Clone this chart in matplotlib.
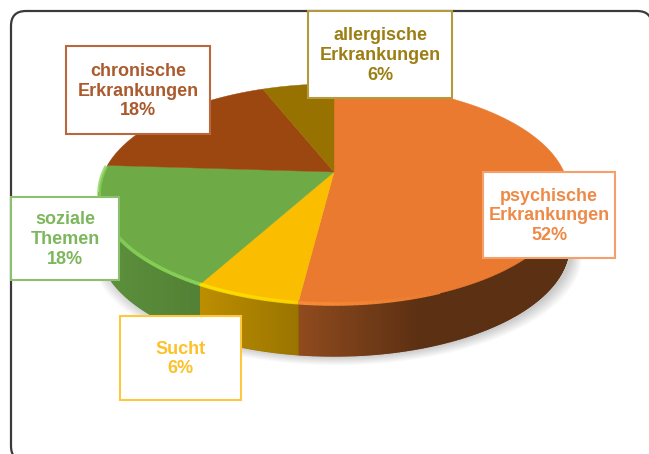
import numpy as np
import matplotlib
matplotlib.use("Agg")
import matplotlib.pyplot as plt
from matplotlib.collections import LineCollection
from matplotlib.colors import to_rgb
from matplotlib.patches import FancyBboxPatch, Rectangle

# Data, clockwise from 12 o'clock
labels = ["psychische\nErkrankungen\n52%", "Sucht\n6%", "soziale\nThemen\n18%",
          "chronische\nErkrankungen\n18%", "allergische\nErkrankungen\n6%"]
values = [52, 6, 18, 18, 6]
colors = ["#ea7a30", "#fbbd00", "#6eab47", "#9b470f", "#977200"]
text_colors = ["#ee8a48", "#fdc128", "#7db75d", "#ab5a2e", "#9c7f14"]
edge_colors = ["#f3a06c", "#fec83c", "#8cc06f", "#b9673c", "#b39a3e"]

# Label boxes in pixels: left, top, right, bottom
boxes = [(483, 172, 615, 258), (120, 316, 241, 400), (11, 197, 119, 280),
         (66, 46, 210, 134), (308, 11, 452, 98)]

# Pie placement in pixels, with a simple perspective so the near side looks bigger
cx, cy = 334, 172
sx, sy = 230, 106
k = 0.203
depth = 51


def project(theta):
    """theta is clockwise from the top, in radians"""
    x, y = np.sin(theta), np.cos(theta)
    d = 1 + k * y
    return cx + sx * x / d, cy - sy * y / d


def shade(x):
    # how dark the rim gets from left to right
    return np.interp(x, [97, 199, 295, 420, 570], [0.85, 0.75, 0.62, 0.39, 0.39])


fig = plt.figure(figsize=(6.49, 4.54), dpi=100)
ax = fig.add_axes([0, 0, 1, 1])
ax.set_xlim(0, 649)
ax.set_ylim(454, 0)
ax.axis("off")

# Frame
ax.add_patch(FancyBboxPatch((26, 26), 611, 420, boxstyle="round,pad=15,rounding_size=15",
                            fc="white", ec="#3a3a3a", lw=1.6, zorder=0))

edges = np.cumsum([0] + values) / np.sum(values) * 2 * np.pi

# Soft shadow under the rim
t = np.linspace(np.pi / 2, 3 * np.pi / 2, 181)
px, py = project(t)
for grow in np.linspace(13, 1, 9):
    ax.fill(cx + (px - cx) * (1 + grow / 300) + 3, py + depth + grow * 0.7,
            color="black", alpha=0.022, lw=0, zorder=1)

# Rim, in thin strips, only the part facing the viewer
for i in range(len(values)):
    t = np.linspace(edges[i], edges[i + 1], int(values[i] * 12) + 2)
    x, y = project(t)
    base = np.array(to_rgb(colors[i]))
    for j in range(len(t) - 1):
        if np.cos(t[j]) > -k + 0.02:
            continue
        c = base * shade((x[j] + x[j + 1]) / 2)
        ax.fill([x[j], x[j + 1], x[j + 1], x[j]],
                [y[j], y[j + 1], y[j + 1] + depth, y[j] + depth],
                color=c, lw=1, zorder=2)

# Top face
for i in range(len(values)):
    t = np.linspace(edges[i], edges[i + 1], 200)
    x, y = project(t)
    ax.fill(np.r_[cx, x], np.r_[cy, y], color=colors[i], lw=0.3, zorder=3)

# Bevel highlight on the front edge, fading out to the right
for i in range(len(values)):
    t = np.linspace(edges[i], edges[i + 1], 200)
    x, y = project(t)
    keep = (np.cos(t) < 0.05) & (x < 440)
    x, y = x[keep], y[keep]
    if len(x) < 2:
        continue
    base = np.array(to_rgb(colors[i]))
    light = np.clip(base * 1.25, 0, 1)
    segs = [[(x[j], y[j] - 1), (x[j + 1], y[j + 1] - 1)] for j in range(len(x) - 1)]
    mix = np.interp(x[:-1], [97, 200, 330, 440], [0.9, 1.0, 0.5, 0.0])
    cols = [base + (light - base) * m for m in mix]
    ax.add_collection(LineCollection(segs, colors=cols, linewidths=2.6, zorder=4))

# Labels
for i in range(len(labels)):
    x0, y0, x1, y1 = boxes[i]
    ax.add_patch(Rectangle((x0, y0), x1 - x0, y1 - y0, fc="white", ec=edge_colors[i],
                           lw=1.5, zorder=5))
    ax.text((x0 + x1) / 2, (y0 + y1) / 2 + 1, labels[i], color=text_colors[i], ha="center",
            va="center", fontsize=13, fontweight="bold", family="Liberation Sans",
            linespacing=1.22, zorder=6)

fig.savefig("out.png", dpi=100)
